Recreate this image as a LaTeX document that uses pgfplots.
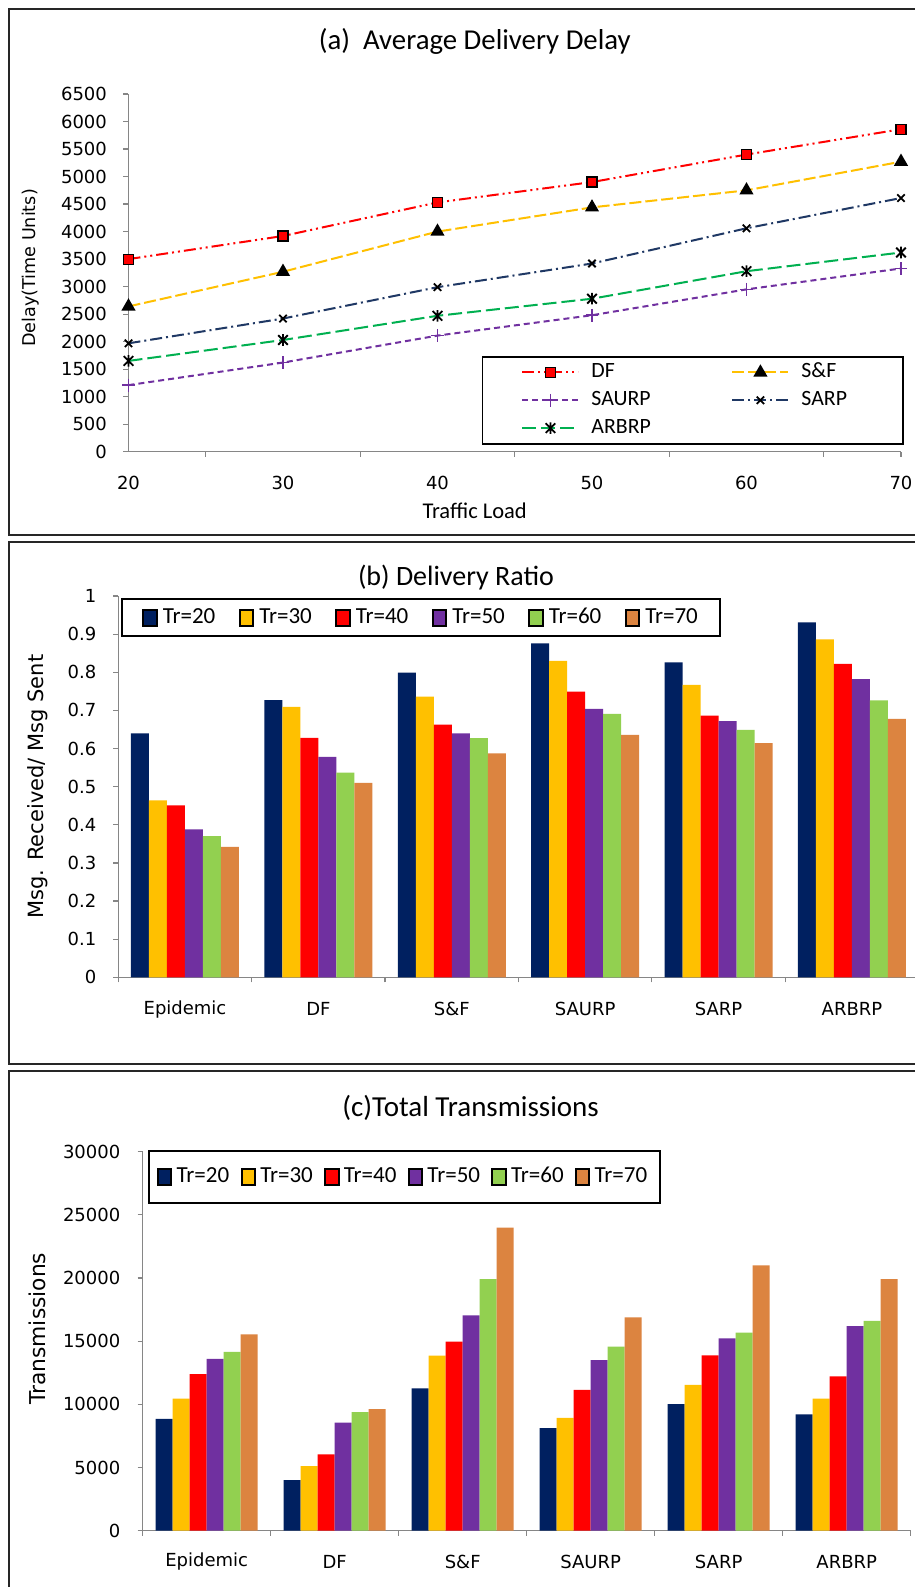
\documentclass[border=0pt]{standalone}
\usepackage{fontspec}
\setmainfont{Carlito}
\newfontfamily\dv{DejaVu Sans}
\usepackage{pgfplots}
\pgfplotsset{compat=1.18}
\usepackage{pgfplotstable}

\definecolor{axgray}{HTML}{868686}
\definecolor{cNavy}{HTML}{002060}
\definecolor{cGold}{HTML}{FFC000}
\definecolor{cRed}{HTML}{FF0000}
\definecolor{cPurple}{HTML}{7030A0}
\definecolor{cGreen}{HTML}{92D050}
\definecolor{cOrange}{HTML}{DC8440}
\definecolor{lNavy}{HTML}{1F3864}
\definecolor{lGreen}{HTML}{00B050}

\pgfdeclareplotmark{xast}{%
  \pgfpathmoveto{\pgfqpoint{-\pgfplotmarksize}{-\pgfplotmarksize}}%
  \pgfpathlineto{\pgfqpoint{\pgfplotmarksize}{\pgfplotmarksize}}%
  \pgfpathmoveto{\pgfqpoint{-\pgfplotmarksize}{\pgfplotmarksize}}%
  \pgfpathlineto{\pgfqpoint{\pgfplotmarksize}{-\pgfplotmarksize}}%
  \pgfpathmoveto{\pgfqpoint{0pt}{-1.2\pgfplotmarksize}}%
  \pgfpathlineto{\pgfqpoint{0pt}{1.2\pgfplotmarksize}}%
  \pgfusepathqstroke}

\pgfplotsset{
  ybar legend/.style={legend image code/.code={\draw[##1,/tikz/.cd] (0pt,-4pt) rectangle (6.7pt,4pt);}},
  panel/.style={
    scale only axis, anchor=south west,
    axis x line*=bottom, axis y line*=left,
    axis line style={-, draw=axgray, line width=0.75pt},
    tick align=outside, xtick pos=left, ytick pos=left,
    major tick length=2.5pt, minor tick length=2.5pt,
    tick style={draw=axgray, line width=0.6pt},
    every major x tick/.append style={draw=none},
    scaled ticks=false,
    every axis title shift=0pt,
    /pgf/number format/assume math mode=true,
    /pgf/number format/1000 sep={},
    tick label style={font=\dv\fontsize{9}{10.8}\selectfont, inner sep=0pt},
    yticklabel style={anchor=east},
  },
}

\pgfplotstableread{
x DF SF SAURP SARP ARBRP
20 3500 2640 1210 1970 1650
30 3920 3270 1620 2420 2030
40 4530 4000 2110 2990 2470
50 4900 4440 2480 3420 2780
60 5400 4750 2950 4060 3280
70 5860 5270 3330 4610 3620
}\tabA

\pgfplotstableread{
c t20 t30 t40 t50 t60 t70
0 0.640 0.464 0.451 0.388 0.370 0.342
1 0.727 0.709 0.628 0.578 0.537 0.510
2 0.799 0.736 0.663 0.640 0.627 0.587
3 0.876 0.830 0.749 0.704 0.691 0.636
4 0.826 0.767 0.686 0.672 0.649 0.614
5 0.931 0.886 0.822 0.782 0.726 0.678
}\tabB

\pgfplotstableread{
c t20 t30 t40 t50 t60 t70
0 8850 10450 12400 13600 14150 15550
1 4000 5120 6050 8550 9380 9630
2 11270 13870 14960 17050 19920 24000
3 8130 8940 11140 13500 14580 16880
4 10030 11550 13880 15230 15690 21000
5 9210 10460 12220 16200 16610 19920
}\tabC

\begin{document}
\begin{tikzpicture}
\useasboundingbox (0pt,0pt) rectangle (457.5pt,-793.5pt);
\clip (0pt,0pt) rectangle (457.5pt,-793.5pt);
\fill[white] (0pt,0pt) rectangle (457.5pt,-793.5pt);

% ---------- panel frames ----------
\draw[line width=0.9pt, black!85] (4.5pt,-4.5pt) rectangle (480pt,-267.5pt);
\draw[line width=0.9pt, black!85] (4.5pt,-271pt) rectangle (480pt,-532pt);
\draw[line width=0.9pt, black!85] (4.5pt,-535.5pt) rectangle (480pt,-810pt);

% ---------- (a) ----------
\begin{axis}[panel,
  at={(64.25pt,-225.85pt)}, width=386.25pt, height=178.85pt,
  xmin=20, xmax=70, ymin=0, ymax=6500,
  xtick={20,30,...,70}, minor xtick={25,35,45,55,65,70},
  ytick={0,500,...,6500},
  yticklabel style={xshift=-8.1pt},
  xticklabel style={anchor=center, yshift=-13pt},
  title={(a)\ \ Average Delivery Delay},
  title style={font=\fontsize{14.4}{16}\selectfont, at={(axis description cs:0.4482,1.1473)}, anchor=center},
  xlabel={Traffic Load},
  xlabel style={font=\fontsize{11.25}{13}\selectfont, at={(axis description cs:0.4481,-0.1649)}, anchor=center},
  ylabel={Delay(Time Units)},
  ylabel style={font=\dv\fontsize{8.8}{10}\selectfont, at={(axis description cs:-0.1271,0.5136)}, anchor=center},
  legend columns=2,
  legend cell align=left,
  legend style={at={(axis description cs:0.4576,0.2675)}, anchor=north west,
    draw=black, line width=0.75pt, inner xsep=19.35pt, inner ysep=3.35pt, row sep=4.9pt,
    font=\fontsize{10.9}{12}\selectfont,
    nodes={inner sep=0pt, text height=7pt, text depth=2pt},
    /tikz/every odd column/.append style={column sep=6pt}},
  legend image code/.code={\draw[mark repeat=2,mark phase=2,#1] plot coordinates {(0pt,0pt) (14pt,0pt) (28pt,0pt)};},
]
\addplot[color=cRed, line width=1pt, dash pattern=on 6pt off 2pt on 1pt off 2pt on 1pt off 2pt,
  mark=square*, mark size=2.5pt, mark options={solid, fill=cRed, draw=black, line width=0.6pt}]
  table[x=x, y=DF]{\tabA};
\addlegendentry{\makebox[70pt][l]{DF}}
\addplot[color=cGold, line width=1pt, dash pattern=on 6pt off 2pt,
  mark=triangle*, mark size=3.1pt, mark options={solid, fill=black, draw=black}]
  table[x=x, y=SF]{\tabA};
\addlegendentry{\makebox[31.5pt][l]{S\&F}}
\addplot[color=cPurple, line width=1pt, dash pattern=on 3pt off 2pt,
  mark=+, mark size=3.2pt, mark options={solid, draw=cPurple, line width=0.8pt}]
  table[x=x, y=SAURP]{\tabA};
\addlegendentry{\makebox[70pt][l]{SAURP}}
\addplot[color=lNavy, line width=1pt, dash pattern=on 6pt off 2pt on 1pt off 2pt,
  mark=x, mark size=2.6pt, mark options={solid, draw=black, line width=0.9pt}]
  table[x=x, y=SARP]{\tabA};
\addlegendentry{\makebox[31.5pt][l]{SARP}}
\addplot[color=lGreen, line width=1pt, dash pattern=on 7pt off 2.5pt,
  mark=xast, mark size=2.4pt, mark options={solid, draw=black, line width=0.9pt}]
  table[x=x, y=ARBRP]{\tabA};
\addlegendentry{\makebox[70pt][l]{ARBRP}}
\end{axis}

% ---------- (b) ----------
\begin{axis}[panel,
  at={(59.15pt,-488.65pt)}, width=400.2pt, height=190.65pt,
  ybar=0pt, bar width=9pt,
  xmin=-0.5, xmax=5.5, ymin=0, ymax=1,
  xtick={0,1,2,3,4,5}, xticklabels={Epidemic,DF,S\&F,SAURP,SARP,ARBRP},
  minor xtick={-0.5,0.5,1.5,2.5,3.5,4.5,5.5},
  ytick={0,0.1,0.2,0.3,0.4,0.5,0.6,0.7,0.8,0.9,1},
  yticklabels={0,0.1,0.2,0.3,0.4,0.5,0.6,0.7,0.8,0.9,1},
  yticklabel style={xshift=-8.3pt},
  xticklabel style={anchor=center, yshift=-13.5pt},
  title={(b) Delivery Ratio},
  title style={font=\fontsize{14}{16}\selectfont, at={(axis description cs:0.4219,1.0490)}, anchor=center},
  ylabel={Msg. Received/ Msg Sent},
  ylabel style={font=\dv\fontsize{10.5}{12}\selectfont, at={(axis description cs:-0.1003,0.4999)}, anchor=center},
  legend columns=6,
  legend cell align=left,
  legend style={at={(axis description cs:0.00387,0.9947)}, anchor=north west,
    draw=black, line width=1pt, inner xsep=10pt, inner ysep=4pt,
    font=\fontsize{11.5}{13}\selectfont,
    nodes={inner sep=0pt, text height=8pt, text depth=2.5pt},
    /tikz/every odd column/.append style={column sep=2.5pt}},
]
\addplot[fill=cNavy, draw=none] table[x=c, y=t20]{\tabB};
\addlegendentry{\makebox[38.05pt][l]{Tr=20}}
\addplot[fill=cGold, draw=none] table[x=c, y=t30]{\tabB};
\addlegendentry{\makebox[38.05pt][l]{Tr=30}}
\addplot[fill=cRed, draw=none] table[x=c, y=t40]{\tabB};
\addlegendentry{\makebox[38.05pt][l]{Tr=40}}
\addplot[fill=cPurple, draw=none] table[x=c, y=t50]{\tabB};
\addlegendentry{\makebox[38.05pt][l]{Tr=50}}
\addplot[fill=cGreen, draw=none] table[x=c, y=t60]{\tabB};
\addlegendentry{\makebox[38.05pt][l]{Tr=60}}
\addplot[fill=cOrange, draw=none] table[x=c, y=t70]{\tabB};
\addlegendentry{\makebox[27.35pt][l]{Tr=70}}
\end{axis}

% ---------- (c) ----------
\begin{axis}[panel,
  at={(71.35pt,-765.35pt)}, width=384pt, height=189.5pt,
  ybar=0pt, bar width=8.5pt,
  xmin=-0.5, xmax=5.5, ymin=0, ymax=30000,
  xtick={0,1,2,3,4,5}, xticklabels={Epidemic,DF,S\&F,SAURP,SARP,ARBRP},
  minor xtick={-0.5,0.5,1.5,2.5,3.5,4.5,5.5},
  ytick={0,5000,10000,15000,20000,25000,30000},
  yticklabel style={xshift=-8.5pt},
  xticklabel style={anchor=center, yshift=-13pt},
  title={(c)Total Transmissions},
  title style={font=\fontsize{14.5}{16}\selectfont, at={(axis description cs:0.427,1.1145)}, anchor=center},
  ylabel={Transmissions},
  ylabel style={font=\dv\fontsize{10.9}{12}\selectfont, at={(axis description cs:-0.1376,0.5327)}, anchor=center},
  legend columns=6,
  legend cell align=left,
  legend style={at={(axis description cs:0.0069,1.0045)}, anchor=north west,
    draw=black, line width=1pt, inner xsep=4pt, inner ysep=7.75pt,
    font=\fontsize{11.5}{13}\selectfont,
    nodes={inner sep=0pt, text height=8pt, text depth=2.5pt},
    /tikz/every odd column/.append style={column sep=2.15pt}},
]
\addplot[fill=cNavy, draw=none] table[x=c, y=t20]{\tabC};
\addlegendentry{\makebox[31.95pt][l]{Tr=20}}
\addplot[fill=cGold, draw=none] table[x=c, y=t30]{\tabC};
\addlegendentry{\makebox[31.95pt][l]{Tr=30}}
\addplot[fill=cRed, draw=none] table[x=c, y=t40]{\tabC};
\addlegendentry{\makebox[31.95pt][l]{Tr=40}}
\addplot[fill=cPurple, draw=none] table[x=c, y=t50]{\tabC};
\addlegendentry{\makebox[31.95pt][l]{Tr=50}}
\addplot[fill=cGreen, draw=none] table[x=c, y=t60]{\tabC};
\addlegendentry{\makebox[31.95pt][l]{Tr=60}}
\addplot[fill=cOrange, draw=none] table[x=c, y=t70]{\tabC};
\addlegendentry{\makebox[28.5pt][l]{Tr=70}}
\end{axis}
\end{tikzpicture}
\end{document}
